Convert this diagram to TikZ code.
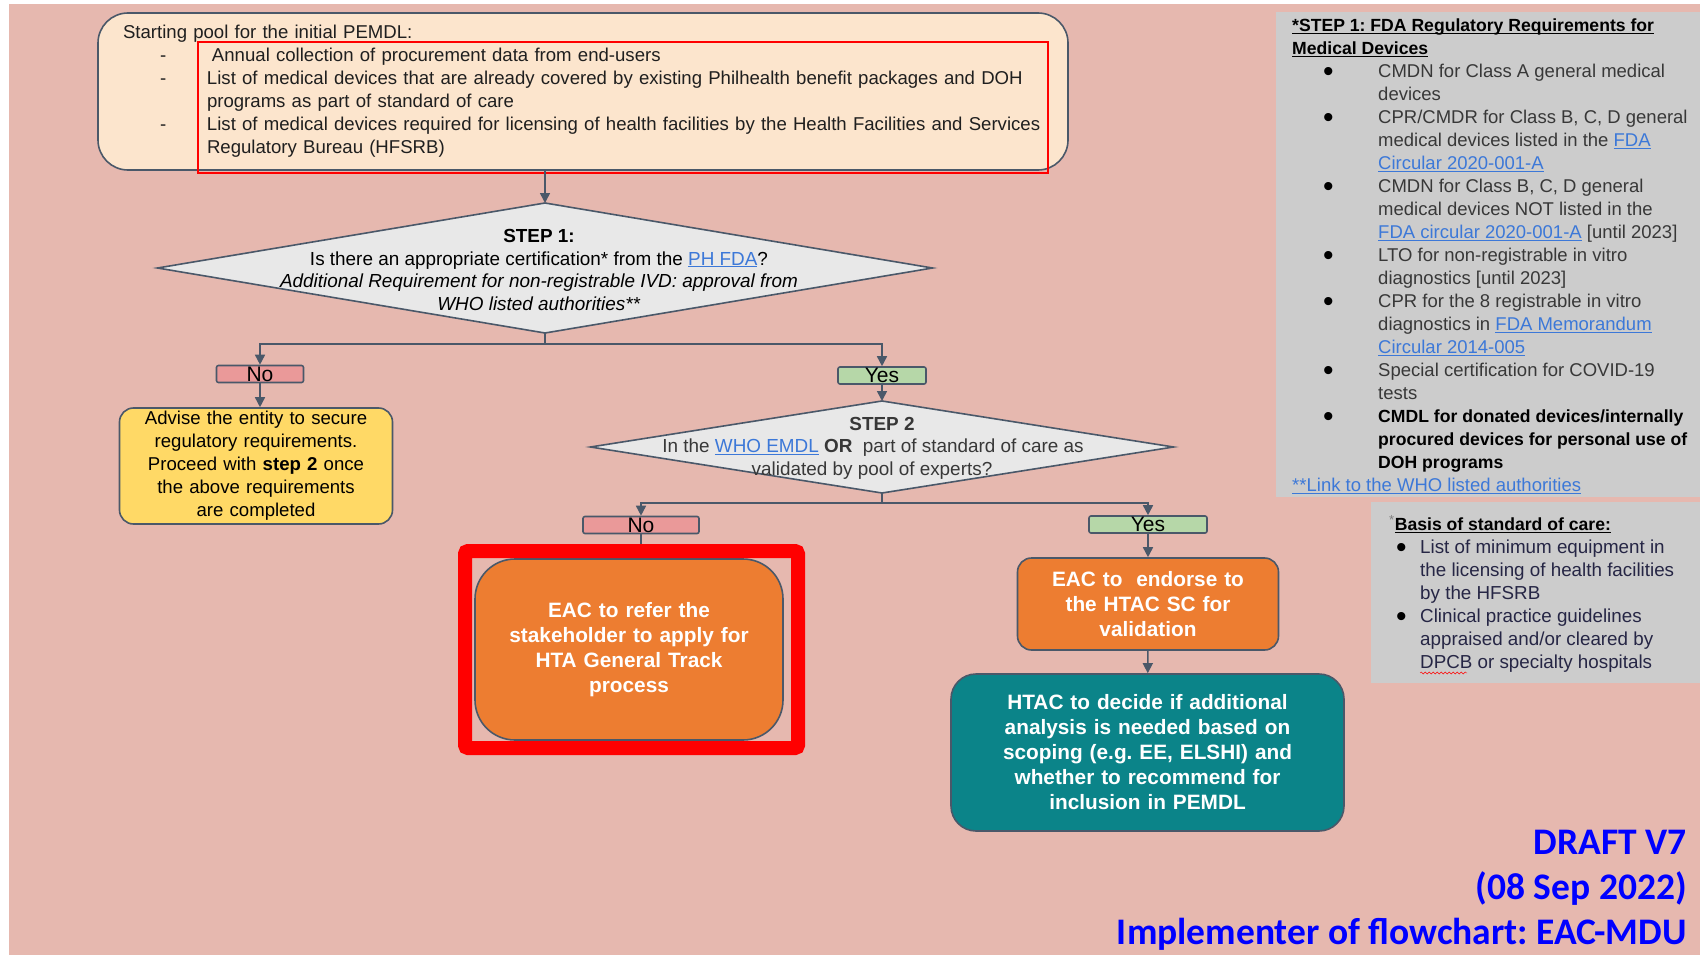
\documentclass[tikz,border=0pt]{standalone}
\usepackage{fontspec}
\setmainfont{Liberation Sans}
\newfontfamily\draftfont{Carlito}
\usepackage{xcolor}
\usetikzlibrary{arrows.meta,positioning,shapes.geometric,decorations.pathmorphing}
\frenchspacing

\definecolor{bgpink}{HTML}{E6B8AF}
\definecolor{panelgrey}{HTML}{CCCCCC}
\definecolor{poolfill}{HTML}{FCE5CD}
\definecolor{edge}{HTML}{4A5869}
\definecolor{diafill}{HTML}{E8E8E8}
\definecolor{nofill}{HTML}{EA9999}
\definecolor{yesfill}{HTML}{B6D7A8}
\definecolor{advfill}{HTML}{FFD966}
\definecolor{eacfill}{HTML}{ED7D31}
\definecolor{htacfill}{HTML}{0B8489}
\definecolor{linkblue}{HTML}{3C78D8}
\definecolor{notegrey}{HTML}{383838}
\definecolor{notenavy}{HTML}{262645}

\newcommand{\undl}[1]{\underline{\smash{#1}}}
\newcommand{\lnk}[1]{\textcolor{linkblue}{\undl{#1}}}
\newcommand{\bigdot}{\raisebox{-3.5pt}{\textcolor{black}{\fontsize{30}{23}\selectfont\textbullet}}}
\newcommand{\dashitem}[1]{\mbox{\makebox[84pt][l]{\hspace*{37pt}-}#1}}
\newcommand{\fdaitem}[1]{\mbox{\makebox[86pt][l]{\hspace*{31pt}\bigdot}#1}}
\newcommand{\careitem}[1]{\mbox{\makebox[31pt][l]{\hspace*{7pt}\bigdot}#1}}
\newcommand{\notebold}[1]{\textcolor{black}{\bfseries\fontsize{17.6}{23}\selectfont #1}}

\begin{document}
\begin{tikzpicture}[
  x=1pt, y=-1pt,
  box/.style={draw=edge, line width=1.6pt, rounded corners=14pt, align=center, inner sep=0pt},
  choice/.style={diamond, draw=edge, line width=1.6pt, fill=diafill, inner sep=0pt, outer sep=0pt},
  lab/.style={draw=edge, line width=1.6pt, rounded corners=2pt, inner sep=0pt, minimum height=17pt,
    text height=15pt, text depth=1pt, font=\fontsize{21}{21}\selectfont},
  arr/.style={-{Triangle[length=10pt, width=10pt]}, line width=1.6pt, draw=edge},
  plain/.style={font=\fontsize{18.6}{23}\selectfont},
  wide/.style={font=\fontsize{18.9}{22.5}\selectfont},
  note/.style={font=\fontsize{18.5}{23}\selectfont},
  bold white/.style={text=white, font=\bfseries\fontsize{20.8}{25}\selectfont}
]
  \fill[white] (0,0) rectangle (1700,955);
  \fill[bgpink] (9,4) rectangle (1700,955);
  \fill[panelgrey] (1276,12) rectangle (1700,497);
  \fill[panelgrey] (1371,502) rectangle (1700,683);
  \useasboundingbox (0,0) rectangle (1700,955);

  \node[box, fill=poolfill, rounded corners=30pt, minimum width=970pt, minimum height=157pt,
    text width=920pt, align=left, plain, text=black!88] (pool) at (583,91.5)
    {Starting pool for the initial PEMDL:\\
     \dashitem{\hspace*{5pt}Annual collection of procurement data from end-users}\\
     \dashitem{List of medical devices that are already covered by existing Philhealth benefit packages and DOH}\\
     \hspace*{84pt}programs as part of standard of care\\
     \dashitem{List of medical devices required for licensing of health facilities by the Health Facilities and Services}\\
     \hspace*{84pt}Regulatory Bureau (HFSRB)};
  \draw[red, line width=1.5pt] (198,42) rectangle (1048,173);

  \node[choice, minimum width=775pt, minimum height=130pt] (step1) at (545,268) {};
  \node[wide, align=center, inner sep=0pt] (step1txt) at (539,270)
    {\textbf{STEP 1:}\\
     Is there an appropriate certification* from the \lnk{PH FDA}?\\
     \textit{Additional Requirement for non-registrable IVD: approval from}\\
     \textit{WHO listed authorities**}};

  \node[lab, fill=nofill, minimum width=87pt] (no1) at (260,374) {No};
  \node[lab, fill=yesfill, minimum width=88pt] (yes1) at (882,375.5) {Yes};

  \node[box, fill=advfill, minimum width=273pt, minimum height=116pt, text width=265pt, plain] (advise) at (256,466)
    {Advise the entity to secure\\ regulatory requirements.\\ Proceed with \textbf{step 2} once\\ the above requirements\\ are completed};

  \node[choice, minimum width=583pt, minimum height=92pt] (step2) at (882,447) {};
  \node[wide, align=center, inner sep=0pt, text=black!78] (step2txt) at (882,448)
    {\textbf{STEP 2}\\
     In the \lnk{WHO EMDL} \textbf{OR}\ \ part of standard of care as\hspace*{18pt}\mbox{}\\
     validated by pool of experts?\hspace*{20pt}\mbox{}};

  \node[lab, fill=nofill, minimum width=116pt] (no2) at (641,525) {No};
  \node[lab, fill=yesfill, minimum width=118pt] (yes2) at (1148,524.5) {Yes};

  \node[box, fill=eacfill, rounded corners=40pt, minimum width=308pt, minimum height=181pt, text width=295pt, bold white] (refer) at (629,649.5)
    {EAC to refer the\\ stakeholder to apply for\\ HTA General Track\\ process};
  \node[box, fill=eacfill, minimum width=261pt, minimum height=92pt, text width=255pt, bold white] (endorse) at (1148,604)
    {EAC to\ \ endorse to\\ the HTAC SC for\\ validation};
  \node[box, fill=htacfill, rounded corners=25pt, minimum width=393pt, minimum height=157pt, text width=385pt, bold white] (htac) at (1147.5,752.5)
    {HTAC to decide if additional\\ analysis is needed based on\\ scoping (e.g. EE, ELSHI) and\\ whether to recommend for\\ inclusion in PEMDL};

  \draw[arr] (step1.north |- pool.south) -- (step1.north);
  \draw[arr] (step1.south) -- ++(0,11) -| (no1.north);
  \draw[arr] (step1.south) -- ++(0,11) -| (yes1.north);
  \draw[arr] (no1.south) -- (no1.south |- advise.north);
  \draw[arr] (yes1) -- (step2);
  \draw[arr] (step2.south) -- ++(0,10) -| (no2.north);
  \draw[arr] (step2.south) -- ++(0,10) -| (yes2.north);
  \draw[arr] (no2.south) -- (no2.south |- refer.north);
  \draw[arr] (yes2) -- (endorse);
  \draw[arr] (endorse) -- (htac);

  \draw[red, line width=14pt, rounded corners=3pt] (465,551) rectangle (798,748);

  \node[anchor=north west, inner sep=0pt, align=left, note, text=notegrey] (fdareq) at (1292,15.4)
    {\strut\notebold{\undl{*STEP 1: FDA Regulatory Requirements for}}\\
     \notebold{\undl{Medical Devices}}\\
     \fdaitem{CMDN for Class A general medical}\\
     \hspace*{86pt}devices\\
     \fdaitem{CPR/CMDR for Class B, C, D general}\\
     \hspace*{86pt}medical devices listed in the \lnk{FDA}\\
     \hspace*{86pt}\lnk{Circular 2020-001-A}\\
     \fdaitem{CMDN for Class B, C, D general}\\
     \hspace*{86pt}medical devices NOT listed in the\\
     \hspace*{86pt}\lnk{FDA circular 2020-001-A} [until 2023]\\
     \fdaitem{LTO for non-registrable in vitro}\\
     \hspace*{86pt}diagnostics [until 2023]\\
     \fdaitem{CPR for the 8 registrable in vitro}\\
     \hspace*{86pt}diagnostics in \lnk{FDA Memorandum}\\
     \hspace*{86pt}\lnk{Circular 2014-005}\\
     \fdaitem{Special certification for COVID-19}\\
     \hspace*{86pt}tests\\
     \fdaitem{\notebold{CMDL for donated devices/internally}}\\
     \hspace*{86pt}\notebold{procured devices for personal use of}\\
     \hspace*{86pt}\notebold{DOH programs}\\
     \lnk{**Link to the WHO listed authorities}};

  \node[anchor=north west, inner sep=0pt, align=left, font=\fontsize{18.8}{23}\selectfont, text=notenavy] (carebasis) at (1389,514.4)
    {\strut\textcolor{gray}{\textsuperscript{*}}\notebold{\undl{Basis of standard of care:}}\\
     \careitem{List of minimum equipment in}\\
     \hspace*{31pt}the licensing of health facilities\\
     \hspace*{31pt}by the HFSRB\\
     \careitem{Clinical practice guidelines}\\
     \hspace*{31pt}appraised and/or cleared by\\
     \hspace*{31pt}DPCB or specialty hospitals};
  \draw[red, decorate, decoration={snake, amplitude=1pt, segment length=4pt}] (1420,673) -- (1467,673);

  \node[anchor=north east, inner sep=0pt, align=right, text=blue,
    font=\draftfont\bfseries\fontsize{37.5}{45}\selectfont] (draft) at (1687,823)
    {\strut DRAFT V7\\ (08 Sep 2022)\\ Implementer of flowchart: EAC-MDU};
\end{tikzpicture}
\end{document}
